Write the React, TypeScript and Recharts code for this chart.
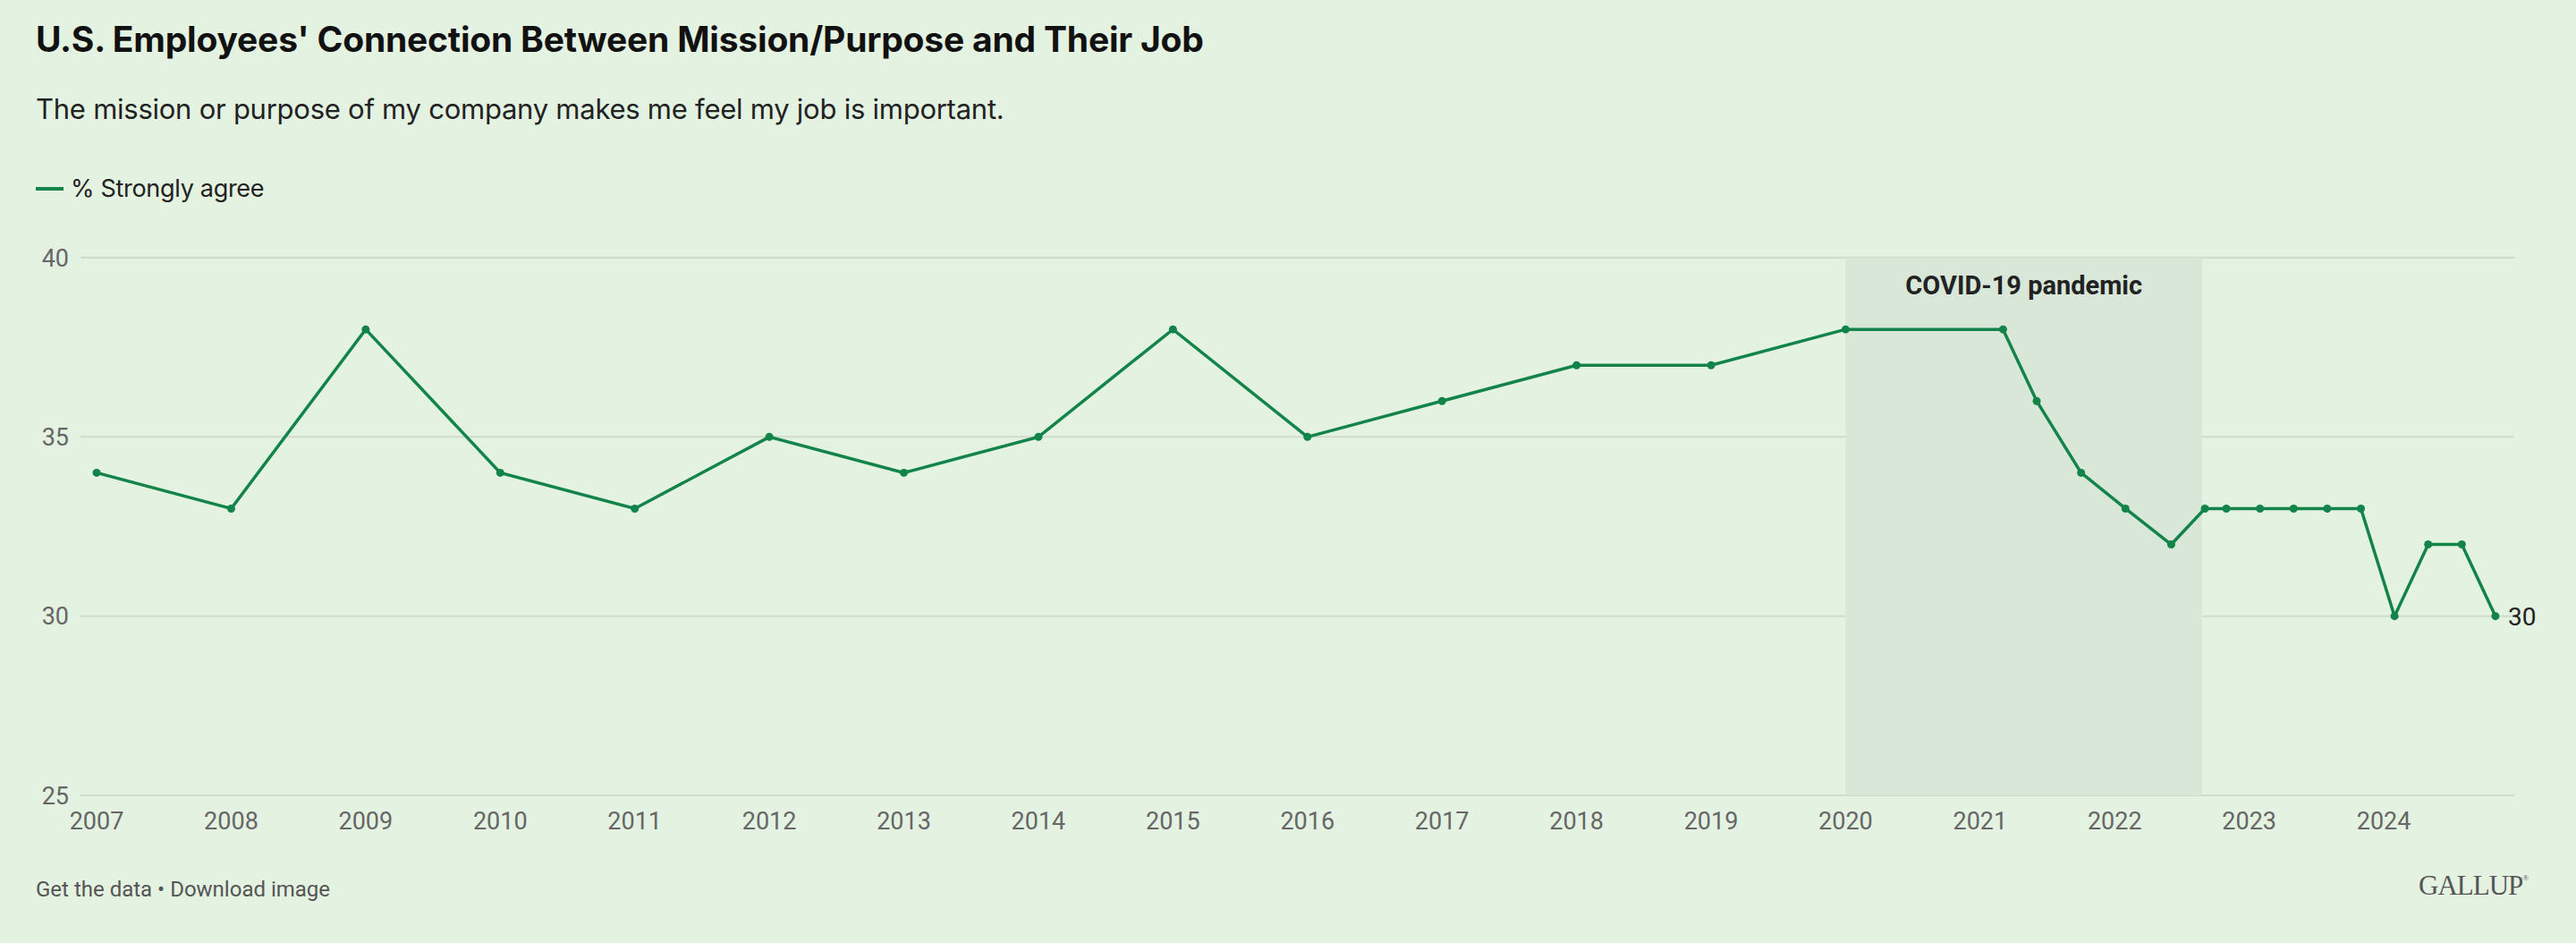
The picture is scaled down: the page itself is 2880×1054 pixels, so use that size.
import React from 'react'
import { LineChart, Line, XAxis, YAxis, CartesianGrid, ReferenceArea } from 'recharts'

// survey dates as decimal years (annual to 2020, then roughly quarterly)
const surveyDates = [
  2007, 2008, 2009, 2010, 2011, 2012, 2013, 2014, 2015, 2016, 2017, 2018, 2019, 2020,
  2021.17, 2021.42, 2021.75, 2022.08, 2022.42, 2022.67, 2022.83, 2023.08, 2023.33,
  2023.58, 2023.83, 2024.08, 2024.33, 2024.58, 2024.83,
]
const stronglyAgree = [
  34, 33, 38, 34, 33, 35, 34, 35, 38, 35, 36, 37, 37, 38,
  38, 36, 34, 33, 32, 33, 33, 33, 33,
  33, 33, 30, 32, 32, 30,
]
const yearTicks = [2007, 2008, 2009, 2010, 2011, 2012, 2013, 2014, 2015, 2016, 2017, 2018, 2019, 2020, 2021, 2022, 2023, 2024]
const valueTicks = [25, 30, 35, 40]
const covidStart = 2020
const covidEnd = 2022.65

const data = surveyDates.map((t, i) => ({ t, v: stronglyAgree[i] }))

const GREEN = '#12844a'
const FONT = 'Roboto, "Noto Sans", sans-serif'
const HEAD = 'Inter, Roboto, sans-serif'

function EndLabel(props: any) {
  const { x, y, index, value } = props
  if (index !== data.length - 1) return null
  return (
    <text x={x + 14} y={y} dy={10} fontSize={28} fill="#222" fontFamily={FONT}>
      {value}
    </text>
  )
}

export default function App() {
  return (
    <div style={{ position: 'relative', width: 2880, height: 1054, background: '#e4f2e1', fontFamily: FONT, overflow: 'hidden' }}>
      <style>{'body{margin:0}'}</style>
      <div style={{ position: 'absolute', left: 40, top: 20, fontSize: 39, fontWeight: 700, color: '#111', whiteSpace: 'nowrap', fontFamily: HEAD, letterSpacing: -0.2 }}>
        U.S. Employees' Connection Between Mission/Purpose and Their Job
      </div>
      <div style={{ position: 'absolute', left: 40, top: 103, fontSize: 31, color: '#222', whiteSpace: 'nowrap', fontFamily: HEAD, letterSpacing: -0.25 }}>
        The mission or purpose of my company makes me feel my job is important.
      </div>
      <div style={{ position: 'absolute', left: 40, top: 194, fontSize: 27, color: '#222', display: 'flex', alignItems: 'center', whiteSpace: 'nowrap', fontFamily: HEAD, letterSpacing: -0.3 }}>
        <span style={{ display: 'inline-block', width: 31, height: 4, background: GREEN, marginRight: 8 }} />
        % Strongly agree
      </div>

      <div style={{ position: 'absolute', left: 0, top: 0 }}>
        <LineChart width={2880} height={1054} data={data} margin={{ top: 288, right: 69, bottom: 105, left: 40 }}>
          <CartesianGrid vertical={false} stroke="#cfdccc" strokeWidth={2} />
          <ReferenceArea
            x1={covidStart}
            x2={covidEnd}
            y1={25}
            y2={40}
            fill="#d9e7d9"
            fillOpacity={1}
            stroke="none"
            label={{ value: 'COVID-19 pandemic', position: 'insideTop', offset: 20, fontSize: 29, fontWeight: 700, fill: '#222', fontFamily: FONT }}
          />
          <XAxis
            dataKey="t"
            type="number"
            domain={[2006.88, 2024.97]}
            ticks={yearTicks}
            height={60}
            tickLine={false}
            axisLine={false}
            tickSize={6}
            tickMargin={13}
            tick={{ fill: '#666', fontSize: 27, fontFamily: FONT }}
            allowDataOverflow
          />
          <YAxis
            domain={[25, 40]}
            ticks={valueTicks}
            width={50}
            tickLine={false}
            axisLine={false}
            tickSize={6}
            tickMargin={7}
            tick={{ fill: '#666', fontSize: 27, fontFamily: FONT }}
          />
          <Line
            type="linear"
            dataKey="v"
            stroke={GREEN}
            strokeWidth={3.5}
            dot={{ r: 4.5, fill: GREEN, stroke: GREEN, strokeWidth: 0 }}
            activeDot={false}
            isAnimationActive={false}
            label={<EndLabel />}
          />
        </LineChart>
      </div>

      <div style={{ position: 'absolute', left: 40, top: 980, fontSize: 24, color: '#555', whiteSpace: 'nowrap' }}>
        Get the data • Download image
      </div>
      <div style={{ position: 'absolute', left: 2704, top: 972, fontSize: 31, color: '#555', fontFamily: '"Liberation Serif", "DejaVu Serif", serif', whiteSpace: 'nowrap', letterSpacing: -1 }}>
        GALLUP<sup style={{ fontSize: 9, verticalAlign: 'top', position: 'relative', top: 4 }}>®</sup>
      </div>
    </div>
  )
}
